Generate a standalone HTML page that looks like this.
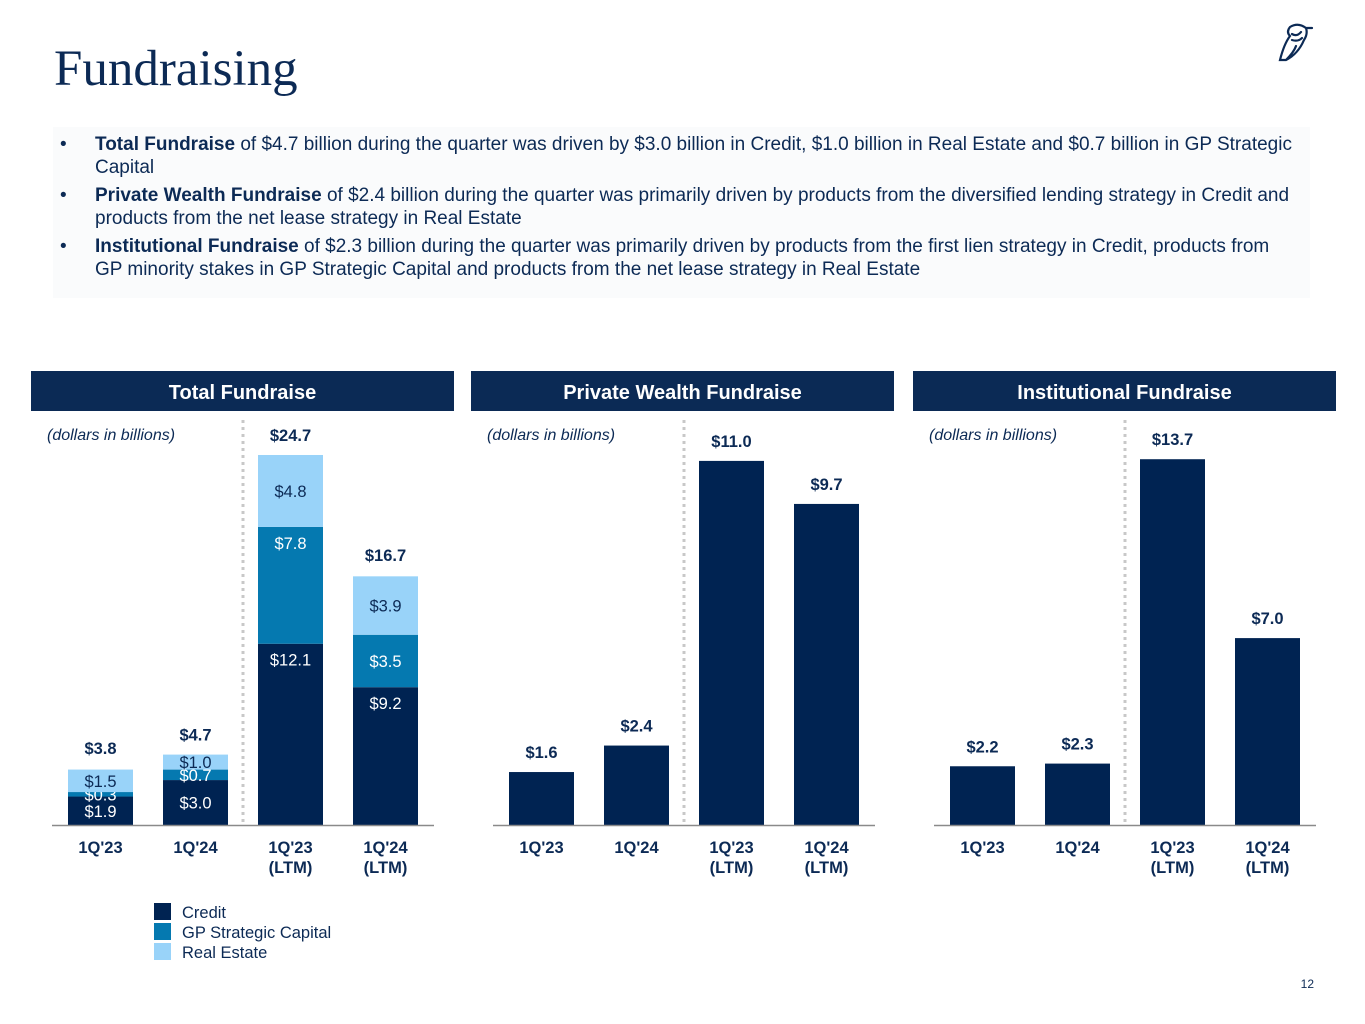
<!DOCTYPE html>
<html><head><meta charset="utf-8"><style>
body{margin:0;width:1365px;height:1024px;background:#fff;font-family:"Liberation Sans",sans-serif;position:relative;overflow:hidden}
.abs{position:absolute}
h1{position:absolute;left:54px;top:40px;margin:0;font-family:"Liberation Serif",serif;font-weight:normal;font-size:51px;color:#0c2a55}
.box{left:53px;top:127px;width:1257px;height:171px;background:#fafbfc}
.bl{position:absolute;left:60px;font-size:19px;color:#0c2a55;line-height:23px}
.bl b{font-weight:bold}
.bl span{position:absolute;left:35px;width:1198px}
</style></head><body>
<h1>Fundraising</h1>
<svg class="abs" style="left:1276px;top:22px" width="44" height="44" viewBox="0 0 44 44">
<path d="M14 5 Q22 0 30 6 L36 6 M14 5 Q10 10 14 14 Q8 22 4 38 L10 38 Q22 32 28 18 Q32 12 30 6 M16 12 Q21 15 25 10 M16 18 Q22 20 26 16 M10 38 Q18 30 20 24" fill="none" stroke="#0c2a55" stroke-width="2.2" stroke-linecap="round"/>
</svg>
<div class="abs box"></div>
<div class="bl" style="top:133px">•<span><b>Total Fundraise</b> of $4.7 billion during the quarter was driven by $3.0 billion in Credit, $1.0 billion in Real Estate and $0.7 billion in GP Strategic Capital</span></div>
<div class="bl" style="top:184px">•<span><b>Private Wealth Fundraise</b> of $2.4 billion during the quarter was primarily driven by products from the diversified lending strategy in Credit and products from the net lease strategy in Real Estate</span></div>
<div class="bl" style="top:235px">•<span><b>Institutional Fundraise</b> of $2.3 billion during the quarter was primarily driven by products from the first lien strategy in Credit, products from GP minority stakes in GP Strategic Capital and products from the net lease strategy in Real Estate</span></div>
<svg id="ch" class="abs" style="left:0;top:0" width="1365" height="1024"></svg>
<script>
const categories=["1Q'23","1Q'24","1Q'23|(LTM)","1Q'24|(LTM)"];
const creditVals=[1.9,3.0,12.1,9.2];
const gpVals=[0.3,0.7,7.8,3.5];
const reVals=[1.5,1.0,4.8,3.9];
const totalVals=[3.8,4.7,24.7,16.7];
const pwVals=[1.6,2.4,11.0,9.7];
const instVals=[2.2,2.3,13.7,7.0];
const NS="http://www.w3.org/2000/svg",svg=document.getElementById('ch');
function mk(t,a,txt){const e=document.createElementNS(NS,t);for(const k in a)e.setAttribute(k,a[k]);if(txt!=null)e.textContent=txt;svg.appendChild(e);return e;}
const NAVY="#002352",GP="#0579b0",RE="#99d3f9";
const panels=[{x:31,title:"Total Fundraise",scale:14.98,x0:68},{x:471,title:"Private Wealth Fundraise",scale:33.1,x0:509,vals:pwVals},{x:913,title:"Institutional Fundraise",scale:26.7,x0:950,vals:instVals}];
const BASE=825,BW=65,STEP=95;
panels.forEach((p,pi)=>{
 let r=mk('rect',{x:p.x,y:371,width:423,height:40,fill:"#0b2a55"});
 
 let t=mk('text',{x:p.x+211.5,y:399,'text-anchor':'middle','font-size':20,'font-weight':'bold',fill:'#fff'},p.title);
 
 let u=mk('text',{x:p.x+16,y:440,'font-size':16,'font-style':'italic',fill:'#0c2a55'},"(dollars in billions)");
 
 const yv=v=>BASE-v*p.scale, xc=i=>p.x0+i*STEP;
 let sep=mk('line',{x1:p.x0+175,x2:p.x0+175,y1:420,y2:BASE,stroke:'#c8c8c8','stroke-width':3,'stroke-dasharray':'3 4'});
 
 categories.forEach((c,i)=>{
  const cx=xc(i)+BW/2;
  if(pi===0){
   const segs=[[creditVals[i],NAVY,'#fff','segment-credit'],[gpVals[i],GP,'#fff','segment-gp'],[reVals[i],RE,'#0c2a55','segment-real-estate']];
   let acc=0;
   segs.forEach(([v,col,tc,nm],si)=>{
    const y1=yv(acc+v),y0=yv(acc);acc+=v;
    let b=mk('rect',{x:xc(i),y:y1,width:BW,height:y0-y1,fill:col});
    
    const h=y0-y1,ly=h<80?(y1+y0)/2+6:y1+22;
    let l=mk('text',{x:cx,y:ly,'text-anchor':'middle','font-size':16.5,fill:tc},"$"+v.toFixed(1));
    
   });
   let tl=mk('text',{x:cx,y:yv(totalVals[i])-14,'text-anchor':'middle','font-size':16.5,'font-weight':'bold',fill:'#0c2a55'},"$"+totalVals[i].toFixed(1));
   
  } else {
   const v=p.vals[i];
   let b=mk('rect',{x:xc(i),y:yv(v),width:BW,height:v*p.scale,fill:NAVY});
   
   let tl=mk('text',{x:cx,y:yv(v)-14,'text-anchor':'middle','font-size':16.5,'font-weight':'bold',fill:'#0c2a55'},"$"+v.toFixed(1));
   
  }
  c.split('|').forEach((s,k)=>{
   let cl=mk('text',{x:cx,y:853+k*20,'text-anchor':'middle','font-size':16.5,'font-weight':'bold',fill:'#0c2a55'},s);
   
  });
 });
 let ax=mk('line',{x1:p.x0-16,x2:p.x0+3*STEP+BW+16,y1:BASE+0.5,y2:BASE+0.5,stroke:'#8a8a8a','stroke-width':1.5});
 
});
[["Credit",NAVY],["GP Strategic Capital",GP],["Real Estate",RE]].forEach(([n,c],i)=>{
 let s=mk('rect',{x:154,y:903+i*20,width:17,height:17,fill:c});
 
 let t=mk('text',{x:182,y:918+i*20,'font-size':16.5,fill:'#0c2a55'},n);
 
});
let pn=mk('text',{x:1314,y:988,'text-anchor':'end','font-size':12,fill:'#0c2a55'},"12");

</script>
</body></html>
